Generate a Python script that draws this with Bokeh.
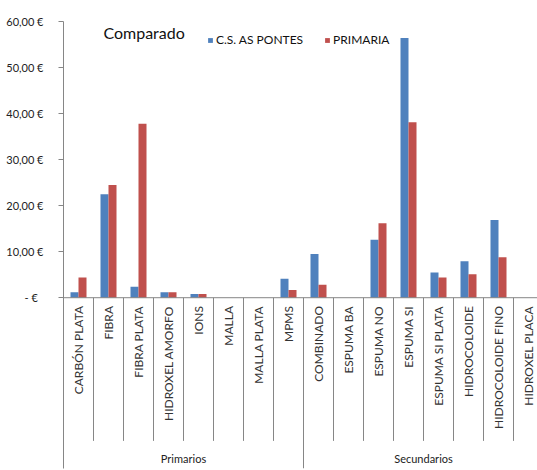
import numpy as np
from bokeh.plotting import figure
from bokeh.models import FixedTicker, Range1d, Label, Legend, LegendItem, Span
from bokeh.embed import file_html
from bokeh.resources import INLINE
from bokeh.core.properties import value

# ---- data ----
groups = ["Primarios", "Secundarios"]
primarios = ["CARBÓN PLATA", "FIBRA", "FIBRA PLATA", "HIDROXEL AMORFO", "IONS",
             "MALLA", "MALLA PLATA", "MPMS"]
secundarios = ["COMBINADO", "ESPUMA BA", "ESPUMA NO", "ESPUMA SI", "ESPUMA SI PLATA",
               "HIDROCOLOIDE", "HIDROCOLOIDE FINO", "HIDROXEL PLACA"]
cs_as_pontes = [1.2, 22.5, 2.4, 1.2, 0.8, 0, 0, 4.1,
                9.5, 0, 12.6, 56.4, 5.5, 7.9, 16.9, 0]
primaria = [4.4, 24.5, 37.8, 1.2, 0.8, 0, 0, 1.7,
            2.8, 0, 16.2, 38.1, 4.4, 5.1, 8.8, 0]
series_names = ["C.S. AS PONTES", "PRIMARIA"]
y_ticks = [0, 10, 20, 30, 40, 50, 60]
y_tick_labels = ["-   €", "10,00 €", "20,00 €", "30,00 €", "40,00 €", "50,00 €", "60,00 €"]
title_text = "Comparado"

BLUE = "#4F81BD"
RED = "#C0504D"
GRAY = "#868686"
FONT = "Lato"

categories = primarios + secundarios
n = len(categories)
idx = np.arange(n)

p = figure(width=537, height=470,
           x_range=Range1d(0, 15.8), y_range=Range1d(-37.1, 60),
           output_backend="svg", toolbar_location=None,
           x_axis_location=None,
           min_border_left=63, min_border_right=0,
           min_border_top=21, min_border_bottom=2)
p.xgrid.visible = False
p.ygrid.visible = False
p.outline_line_color = None
p.background_fill_color = "white"

# y axis
ya = p.yaxis[0]
ya.ticker = FixedTicker(ticks=y_ticks)
ya.major_label_overrides = {float(t): l for t, l in zip(y_ticks, y_tick_labels)}
ya.minor_tick_line_color = None
ya.major_tick_in = 0
ya.major_tick_out = 5
ya.major_label_standoff = 15
ya.axis_line_color = GRAY
ya.major_tick_line_color = GRAY
ya.major_label_text_font = FONT
ya.major_label_text_font_size = "11px"
ya.major_label_text_color = "#222222"

# horizontal axis line at zero
p.add_layout(Span(location=0, dimension="width", line_color=GRAY, line_width=1))

# bars
bw = 0.267
r1 = p.vbar(x=idx + 0.5 - bw / 2, top=cs_as_pontes, width=bw, bottom=0,
            fill_color=BLUE, line_color=None)
r2 = p.vbar(x=idx + 0.5 + bw / 2, top=primaria, width=bw, bottom=0,
            fill_color=RED, line_color=None)

# category separators
sep = np.arange(1, n)
sep = sep[sep != len(primarios)]
p.segment(x0=sep, y0=0, x1=sep, y1=-31.1, line_color=GRAY, line_width=1)
p.segment(x0=[len(primarios)], y0=[0], x1=[len(primarios)], y1=[-37.1],
          line_color=GRAY, line_width=1)

# category labels
p.text(x=idx + 0.5, y=-1.8, text=categories, angle=np.pi / 2,
       text_align="right", text_baseline="middle",
       text_font=value(FONT), text_font_size="12px", text_color="#333333")

# group labels
gx = [len(primarios) / 2, len(primarios) + len(secundarios) / 2]
p.text(x=gx, y=[-35.0, -35.0], text=groups, text_align="center",
       text_baseline="middle", text_font=value(FONT), text_font_size="11px",
       text_color="#222222")

# title
p.add_layout(Label(x=1.33, y=57.6, text=title_text, text_font=FONT,
                   text_font_size="16px", text_baseline="middle",
                   text_color="#111111"))

# legend
legend = Legend(items=[LegendItem(label=series_names[0], renderers=[r1]),
                       LegendItem(label=series_names[1], renderers=[r2])],
                orientation="horizontal", location=(144, 421),
                glyph_width=6, glyph_height=6, label_standoff=3, spacing=21,
                padding=0, margin=0, background_fill_alpha=0,
                border_line_alpha=0, label_text_font=FONT,
                label_text_font_size="12px", label_text_color="#111111")
p.add_layout(legend)

open("out.html", "w").write(file_html(p, INLINE))
